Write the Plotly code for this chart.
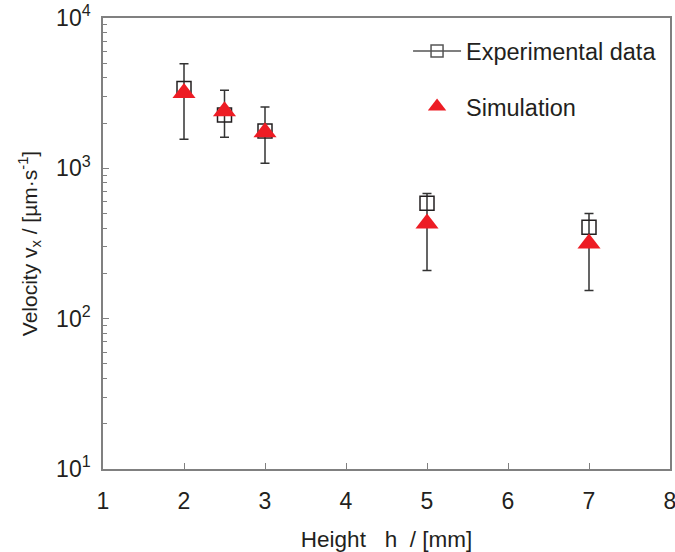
import plotly.graph_objects as go

height_mm = [2, 2.5, 3, 5, 7]
exp_velocity = [3400, 2260, 1770, 585, 405]
exp_err_plus = [1560, 1050, 790, 96, 96]
exp_err_minus = [1840, 650, 690, 376, 251]
sim_velocity = [3170, 2400, 1740, 430, 316]

font_family = "Liberation Sans, Arial, sans-serif"
txt = "#231f20"
axis_col = "#808080"

fig = go.Figure()

fig.add_trace(go.Scatter(
    x=height_mm, y=exp_velocity, mode="markers", showlegend=False,
    marker=dict(symbol="square-open", size=14, color=txt, line=dict(width=1.5, color=txt)),
    error_y=dict(type="data", symmetric=False, array=exp_err_plus, arrayminus=exp_err_minus,
                 color="#333333", thickness=1.5, width=4.5),
))
fig.add_trace(go.Scatter(
    x=height_mm, y=sim_velocity, mode="markers", showlegend=False,
    marker=dict(symbol="triangle-up", size=20, color="#ED1C24"),
))
# legend-only entries
fig.add_trace(go.Scatter(
    x=[None], y=[None], mode="lines+markers", name="Experimental data", legendgroup="a",
    marker=dict(symbol="square-open", size=12, color="#555555", line=dict(width=1.5, color="#555555")),
    line=dict(color="#555555", width=1.5),
))
fig.add_trace(go.Scatter(
    x=[None], y=[None], mode="markers", name="Simulation", legendgroup="b",
    marker=dict(symbol="triangle-up", size=17, color="#ED1C24"),
))

fig.update_layout(
    width=675, height=552,
    margin=dict(l=103, r=5, t=18, b=83),
    plot_bgcolor="white", paper_bgcolor="white",
    font=dict(family=font_family, color=txt, size=23),
    legend=dict(x=0.538, y=0.975, xanchor="left", yanchor="top",
                font=dict(size=23.5), tracegroupgap=22, itemwidth=48,
                bgcolor="rgba(0,0,0,0)", traceorder="grouped"),
    xaxis=dict(
        range=[1, 8], dtick=1, tick0=1, ticks="inside", ticklen=6, tickwidth=1.2,
        tickcolor=axis_col, showline=True, linecolor=axis_col, linewidth=1.5,
        mirror=True, showgrid=False, zeroline=False, automargin=False,
        tickfont=dict(size=23), ticklabelstandoff=11, ticklabeloverflow="allow",
        title=dict(text="Height\u00a0\u00a0 h\u00a0 / [mm]", font=dict(size=22.5), standoff=18),
    ),
    yaxis=dict(
        type="log", range=[1, 4], dtick=1, ticks="inside", ticklen=6, tickwidth=1.2,
        tickcolor=axis_col, showline=True, linecolor=axis_col, linewidth=1.5,
        mirror=True, showgrid=False, zeroline=False, automargin=False,
        tickvals=[10, 100, 1000, 10000],
        ticktext=["10<sup>1</sup>", "10<sup>2</sup>", "10<sup>3</sup>", "10<sup>4</sup>"],
        tickfont=dict(size=23), ticklabelstandoff=6, ticklabeloverflow="allow",
        minor=dict(ticks="inside", ticklen=4, tickcolor=axis_col, tickwidth=1,
                   tickvals=[v * m for m in (10, 100, 1000) for v in range(2, 10)]),
        title=dict(text="Velocity v<sub>x</sub> / [µm·s<sup>-1</sup>]", font=dict(size=21), standoff=13),
    ),
)

fig.write_html("out.html")
